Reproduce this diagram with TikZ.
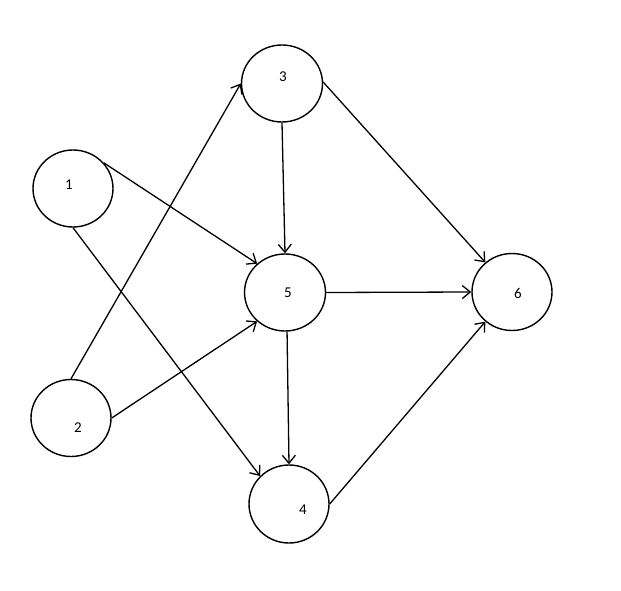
\documentclass[tikz,border=0pt]{standalone}
\usepackage{fontspec}
\setmainfont{Carlito}
\usetikzlibrary{shapes.geometric,arrows.meta}
\begin{document}
\begin{tikzpicture}[x=1pt,y=-1pt,
  vert/.style={draw=black,line width=1.4pt,ellipse,minimum width=80pt,minimum height=77pt,inner sep=0pt},
  lbl/.style={font=\fontsize{15}{17}\selectfont,inner sep=0pt,anchor=center},
  edge/.style={draw=black,line width=1.3pt,-{Straight Barb[length=8pt,width=13pt,line width=1.3pt]}}]
\useasboundingbox (0,0) rectangle (621,591);
\node[vert] (n1) at (73,188.5) {};
\node[vert] (n2) at (71,418) {};
\node[vert,minimum width=81pt] (n3) at (282,83.5) {};
\node[vert,minimum width=81pt] (n5) at (285,292.5) {};
\node[vert] (n6) at (512,292) {};
\node[vert,minimum height=78pt] (n4) at (289,504) {};
\node[lbl] (t1) at (69,185) {1};
\node[lbl] (t2) at (78,428) {2};
\node[lbl] (t3) at (283,77) {3};
\node[lbl] (t5) at (288,293) {5};
\node[lbl] (t6) at (518,293) {6};
\node[lbl] (t4) at (303,510) {4};
\draw[edge] (n1.40) -- (n5.134);
\draw[edge] (n1.270) -- (n4.136);
\draw[edge] (n2.90) -- (n3.180);
\draw[edge] (n2.0) -- (n5.226);
\draw[edge] (n3.270) -- (n5.90);
\draw[edge] (n3.2) -- (n6.132);
\draw[edge] (n5.0) -- (n6.180);
\draw[edge] (n5.273) -- (n4.90);
\draw[edge] (n4.0) -- (n6.228);
\end{tikzpicture}
\end{document}
